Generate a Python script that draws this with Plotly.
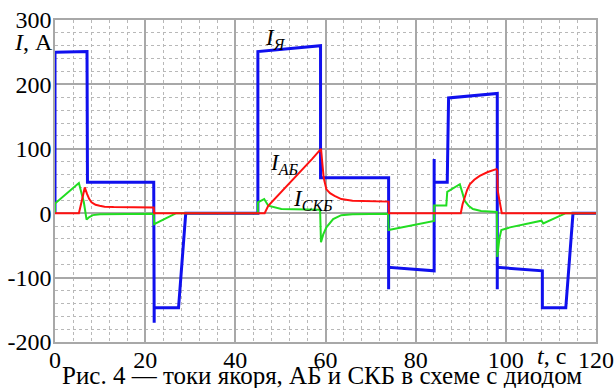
import plotly.graph_objects as go

# Armature current I_Я
t_ya = [0, 0, 7.1, 7.2, 21.9, 22.0, 22.0, 27.4, 29.0, 45.0, 45.0, 58.9, 58.9, 74.0, 74.0, 74.0,
        84.1, 84.1, 84.1, 87.0, 87.3, 98.1, 98.1, 98.1, 108.1, 108.1, 113.3, 114.9, 120]
i_ya = [0, 250, 251, 48, 48, -170, -147, -147, 0, 0, 251, 260, 55, 55, -118, -84,
        -89.5, 84, 48, 48, 179, 186, -118, -84, -89.5, -147, -147, 0, 0]

# Battery current I_АБ
t_ab = [0, 5.3, 6.0, 6.6, 7.1, 7.6, 8.1, 9.0, 9.9, 11, 13, 21.9, 22.0,
        46.5, 47.3, 49, 51, 53, 55, 57, 59.0, 59.3, 59.6, 60.2, 61.0, 62.0, 63.5, 66, 70, 74.0, 74.05,
        90.0, 90.4, 90.8, 91.4, 92.0, 93.0, 94.2, 96.0, 97.9, 98.1, 98.2, 99.1, 120]
i_ab = [0, 0, 21, 40, 30, 22, 17, 13, 11.5, 10, 9.5, 9, 0,
        0, 11.6, 24, 39, 54, 69, 84, 100, 72, 55, 37, 31, 27, 22, 19.5, 18.5, 18, 0,
        0, 14, 24.5, 36, 45, 52, 58, 64, 68.5, 66, 35, 0, 0]

# Supercapacitor current I_СКБ
t_skb = [0, 0, 5.3, 6.4, 7.0, 7.6, 8.4, 10, 21.9, 22.0, 26.9, 45.0, 45.0, 46.4, 47.3, 50.2, 58.8,
         59.0, 59.5, 60.2, 61.7, 63.5, 66, 73.9, 74.0, 84.1, 84.1, 86.8, 87.0, 89.8, 90.9, 91.8,
         92.7, 94.5, 98.0, 98.1, 98.6, 99.0, 100.9, 107.9, 108.3, 113.3, 120]
i_skb = [0, 15, 46.8, 17, -10, -6, -3, -1.5, -1, -17, 0, 0, 17, 22, 11.6, 6.5, 5.4,
         -45, -33, -22, -9, -3, -1.5, -1, -26, -12, 12, 12, 33, 45, 19, 11,
         6.5, 3.5, 2, -68, -38, -26, -22, -11.6, -15.8, 0, 0]

x_ticks = [0, 20, 40, 60, 80, 100, 120]
y_ticks = [-200, -100, 0, 100, 200, 300]

SERIF = "Liberation Serif"

fig = go.Figure()
fig.add_trace(go.Scatter(x=t_ya, y=i_ya, mode="lines", line=dict(color="#1010ee", width=3)))
fig.add_trace(go.Scatter(x=t_skb, y=i_skb, mode="lines", line=dict(color="#22dd22", width=2)))
fig.add_trace(go.Scatter(x=t_ab, y=i_ab, mode="lines", line=dict(color="#ff1010", width=2)))

grid_major = "#a8a8a8"
grid_minor = "#b8b8b8"

fig.update_layout(
    width=616, height=388,
    margin=dict(l=55, r=20, t=20, b=46, autoexpand=False),
    paper_bgcolor="white", plot_bgcolor="white",
    showlegend=False,
    font=dict(family=SERIF, size=24, color="black"),
    xaxis=dict(range=[0, 120], tickvals=x_ticks, ticktext=[str(v) for v in x_ticks],
               automargin=False, ticklabeloverflow="allow", ticklabelstandoff=-5,
               showgrid=True, gridcolor=grid_major, gridwidth=1.5,
               minor=dict(dtick=4, showgrid=True, gridcolor=grid_minor, griddash="dot", gridwidth=1),
               showline=True, linecolor=grid_major, linewidth=1.5, mirror=True,
               zeroline=False, ticks="", tickfont=dict(family=SERIF, size=24, color="black")),
    yaxis=dict(range=[-200, 300], tickvals=y_ticks, ticktext=[str(v) for v in y_ticks],
               automargin=False, ticklabeloverflow="allow", ticklabelstandoff=-3,
               showgrid=True, gridcolor=grid_major, gridwidth=1.5,
               minor=dict(dtick=20, showgrid=True, gridcolor=grid_minor, griddash="dot", gridwidth=1),
               showline=True, linecolor=grid_major, linewidth=1.5, mirror=True,
               zeroline=False, ticks="", tickfont=dict(family=SERIF, size=24, color="black")),
)

ann = [
    dict(x=49, y=270, xref="x", yref="y", text="<i>I</i><sub><i>Я</i></sub>", size=23),
    dict(x=51, y=77, xref="x", yref="y", text="<i>I</i><sub><i>АБ</i></sub>", size=23),
    dict(x=57.3, y=20, xref="x", yref="y", text="<i>I</i><sub><i>СКБ</i></sub>", size=23),
    dict(x=-0.039, y=0.933, xref="paper", yref="paper", text="<i>I</i>, А", size=24),
    dict(x=0.918, y=-0.045, xref="paper", yref="paper", text="<i>t</i>, с", size=24),
    dict(x=0.493, y=-0.104, xref="paper", yref="paper",
         text="Рис. 4 — токи якоря, АБ и СКБ в схеме с диодом", size=25),
]
for a in ann:
    sz = a.pop("size")
    fig.add_annotation(showarrow=False, xanchor="center", yanchor="middle",
                       font=dict(family=SERIF, size=sz, color="black"), **a)

fig.write_html("out.html", config={"displayModeBar": False},
               post_script="document.body.style.margin='0';")
